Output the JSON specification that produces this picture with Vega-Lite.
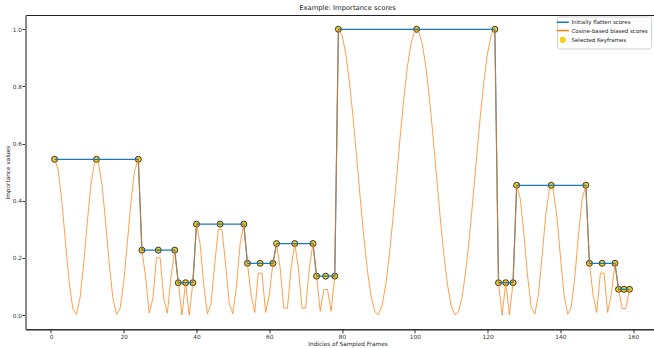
{
  "$schema": "https://vega.github.io/schema/vega-lite/v6.json",
  "autosize": "none",
  "padding": {"left": 25.5, "top": 15, "right": 0, "bottom": 19},
  "width": 644,
  "height": 314.3,
  "title": {"text": "Example: Importance scores", "fontSize": 6.8, "font": "DejaVu Sans", "fontWeight": "normal", "color": "#222", "offset": 3.2},
  "config": {"view": {"stroke": "#222", "strokeWidth": 1}, "font": "DejaVu Sans"},
  "datasets": {
    "frames": [
      {"x":1,"flat":0.545,"cos":0.545},{"x":2,"flat":0.545,"cos":0.5053},{"x":3,"flat":0.545,"cos":0.3979},{"x":4,"flat":0.545,"cos":0.2539},{"x":5,"flat":0.545,"cos":0.1154},{"x":6,"flat":0.545,"cos":0.0226},{"x":7,"flat":0.545,"cos":0.0025},{"x":8,"flat":0.545,"cos":0.0611},{"x":9,"flat":0.545,"cos":0.1812},{"x":10,"flat":0.545,"cos":0.3279},{"x":11,"flat":0.545,"cos":0.4585},{"x":12,"flat":0.545,"cos":0.5349},{"x":13,"flat":0.545,"cos":0.5349},{"x":14,"flat":0.545,"cos":0.4585},{"x":15,"flat":0.545,"cos":0.3279},{"x":16,"flat":0.545,"cos":0.1812},{"x":17,"flat":0.545,"cos":0.0611},{"x":18,"flat":0.545,"cos":0.0025},{"x":19,"flat":0.545,"cos":0.0226},{"x":20,"flat":0.545,"cos":0.1154},{"x":21,"flat":0.545,"cos":0.2539},{"x":22,"flat":0.545,"cos":0.3979},{"x":23,"flat":0.545,"cos":0.5053},{"x":24,"flat":0.545,"cos":0.545},
      {"x":25,"flat":0.227,"cos":0.227},{"x":26,"flat":0.227,"cos":0.1332},{"x":27,"flat":0.227,"cos":0.0068},{"x":28,"flat":0.227,"cos":0.0568},{"x":29,"flat":0.227,"cos":0.2005},{"x":30,"flat":0.227,"cos":0.2005},{"x":31,"flat":0.227,"cos":0.0568},{"x":32,"flat":0.227,"cos":0.0068},{"x":33,"flat":0.227,"cos":0.1332},{"x":34,"flat":0.227,"cos":0.227},
      {"x":35,"flat":0.113,"cos":0.113},{"x":36,"flat":0.113,"cos":0},{"x":37,"flat":0.113,"cos":0.113},{"x":38,"flat":0.113,"cos":0},{"x":39,"flat":0.113,"cos":0.113},
      {"x":40,"flat":0.318,"cos":0.318},{"x":41,"flat":0.318,"cos":0.2493},{"x":42,"flat":0.318,"cos":0.1026},{"x":43,"flat":0.318,"cos":0.0046},{"x":44,"flat":0.318,"cos":0.04},{"x":45,"flat":0.318,"cos":0.1782},{"x":46,"flat":0.318,"cos":0.2998},{"x":47,"flat":0.318,"cos":0.2998},{"x":48,"flat":0.318,"cos":0.1782},{"x":49,"flat":0.318,"cos":0.04},{"x":50,"flat":0.318,"cos":0.0046},{"x":51,"flat":0.318,"cos":0.1026},{"x":52,"flat":0.318,"cos":0.2493},{"x":53,"flat":0.318,"cos":0.318},
      {"x":54,"flat":0.181,"cos":0.181},{"x":55,"flat":0.181,"cos":0.0704},{"x":56,"flat":0.181,"cos":0.009},{"x":57,"flat":0.181,"cos":0.1469},{"x":58,"flat":0.181,"cos":0.1469},{"x":59,"flat":0.181,"cos":0.009},{"x":60,"flat":0.181,"cos":0.0704},{"x":61,"flat":0.181,"cos":0.181},
      {"x":62,"flat":0.25,"cos":0.25},{"x":63,"flat":0.25,"cos":0.1636},{"x":64,"flat":0.25,"cos":0.0239},{"x":65,"flat":0.25,"cos":0.0239},{"x":66,"flat":0.25,"cos":0.1636},{"x":67,"flat":0.25,"cos":0.25},{"x":68,"flat":0.25,"cos":0.1636},{"x":69,"flat":0.25,"cos":0.0239},{"x":70,"flat":0.25,"cos":0.0239},{"x":71,"flat":0.25,"cos":0.1636},{"x":72,"flat":0.25,"cos":0.25},
      {"x":73,"flat":0.136,"cos":0.136},{"x":74,"flat":0.136,"cos":0.013},{"x":75,"flat":0.136,"cos":0.089},{"x":76,"flat":0.136,"cos":0.089},{"x":77,"flat":0.136,"cos":0.013},{"x":78,"flat":0.136,"cos":0.136},
      {"x":79,"flat":1.0,"cos":1.0},{"x":80,"flat":1.0,"cos":0.9788},{"x":81,"flat":1.0,"cos":0.917},{"x":82,"flat":1.0,"cos":0.8198},{"x":83,"flat":1.0,"cos":0.6956},{"x":84,"flat":1.0,"cos":0.5547},{"x":85,"flat":1.0,"cos":0.4092},{"x":86,"flat":1.0,"cos":0.2714},{"x":87,"flat":1.0,"cos":0.153},{"x":88,"flat":1.0,"cos":0.064},{"x":89,"flat":1.0,"cos":0.012},{"x":90,"flat":1.0,"cos":0.0013},{"x":91,"flat":1.0,"cos":0.033},{"x":92,"flat":1.0,"cos":0.1043},{"x":93,"flat":1.0,"cos":0.2091},{"x":94,"flat":1.0,"cos":0.3386},{"x":95,"flat":1.0,"cos":0.4817},{"x":96,"flat":1.0,"cos":0.6265},{"x":97,"flat":1.0,"cos":0.7605},{"x":98,"flat":1.0,"cos":0.8724},{"x":99,"flat":1.0,"cos":0.9527},{"x":100,"flat":1.0,"cos":0.9947},{"x":101,"flat":1.0,"cos":0.9947},{"x":102,"flat":1.0,"cos":0.9527},{"x":103,"flat":1.0,"cos":0.8724},{"x":104,"flat":1.0,"cos":0.7605},{"x":105,"flat":1.0,"cos":0.6265},{"x":106,"flat":1.0,"cos":0.4817},{"x":107,"flat":1.0,"cos":0.3386},{"x":108,"flat":1.0,"cos":0.2091},{"x":109,"flat":1.0,"cos":0.1043},{"x":110,"flat":1.0,"cos":0.033},{"x":111,"flat":1.0,"cos":0.0013},{"x":112,"flat":1.0,"cos":0.012},{"x":113,"flat":1.0,"cos":0.064},{"x":114,"flat":1.0,"cos":0.153},{"x":115,"flat":1.0,"cos":0.2714},{"x":116,"flat":1.0,"cos":0.4092},{"x":117,"flat":1.0,"cos":0.5547},{"x":118,"flat":1.0,"cos":0.6956},{"x":119,"flat":1.0,"cos":0.8198},{"x":120,"flat":1.0,"cos":0.917},{"x":121,"flat":1.0,"cos":0.9788},{"x":122,"flat":1.0,"cos":1.0},
      {"x":123,"flat":0.113,"cos":0.113},{"x":124,"flat":0.113,"cos":0},{"x":125,"flat":0.113,"cos":0.113},{"x":126,"flat":0.113,"cos":0},{"x":127,"flat":0.113,"cos":0.113},
      {"x":128,"flat":0.454,"cos":0.454},{"x":129,"flat":0.454,"cos":0.4061},{"x":130,"flat":0.454,"cos":0.2827},{"x":131,"flat":0.454,"cos":0.1358},{"x":132,"flat":0.454,"cos":0.0274},{"x":133,"flat":0.454,"cos":0.0031},{"x":134,"flat":0.454,"cos":0.0733},{"x":135,"flat":0.454,"cos":0.2083},{"x":136,"flat":0.454,"cos":0.3512},{"x":137,"flat":0.454,"cos":0.4417},{"x":138,"flat":0.454,"cos":0.4417},{"x":139,"flat":0.454,"cos":0.3512},{"x":140,"flat":0.454,"cos":0.2083},{"x":141,"flat":0.454,"cos":0.0733},{"x":142,"flat":0.454,"cos":0.0031},{"x":143,"flat":0.454,"cos":0.0274},{"x":144,"flat":0.454,"cos":0.1358},{"x":145,"flat":0.454,"cos":0.2827},{"x":146,"flat":0.454,"cos":0.4061},{"x":147,"flat":0.454,"cos":0.454},
      {"x":148,"flat":0.181,"cos":0.181},{"x":149,"flat":0.181,"cos":0.0704},{"x":150,"flat":0.181,"cos":0.009},{"x":151,"flat":0.181,"cos":0.1469},{"x":152,"flat":0.181,"cos":0.1469},{"x":153,"flat":0.181,"cos":0.009},{"x":154,"flat":0.181,"cos":0.0704},{"x":155,"flat":0.181,"cos":0.181},
      {"x":156,"flat":0.09,"cos":0.09},{"x":157,"flat":0.09,"cos":0.0225},{"x":158,"flat":0.09,"cos":0.0225},{"x":159,"flat":0.09,"cos":0.09}
    ],
    "keys": [
      {"x":1,"y":0.545},{"x":12.5,"y":0.545},{"x":24,"y":0.545},
      {"x":25,"y":0.227},{"x":29.5,"y":0.227},{"x":34,"y":0.227},
      {"x":35,"y":0.113},{"x":37,"y":0.113},{"x":39,"y":0.113},
      {"x":40,"y":0.318},{"x":46.5,"y":0.318},{"x":53,"y":0.318},
      {"x":54,"y":0.181},{"x":57.5,"y":0.181},{"x":61,"y":0.181},
      {"x":62,"y":0.25},{"x":67,"y":0.25},{"x":72,"y":0.25},
      {"x":73,"y":0.136},{"x":75.5,"y":0.136},{"x":78,"y":0.136},
      {"x":79,"y":1.0},{"x":100.5,"y":1.0},{"x":122,"y":1.0},
      {"x":123,"y":0.113},{"x":125,"y":0.113},{"x":127,"y":0.113},
      {"x":128,"y":0.454},{"x":137.5,"y":0.454},{"x":147,"y":0.454},
      {"x":148,"y":0.181},{"x":151.5,"y":0.181},{"x":155,"y":0.181},
      {"x":156,"y":0.09},{"x":157.5,"y":0.09},{"x":159,"y":0.09}
    ]
  },
  "encoding": {
    "x": {
      "field": "x", "type": "quantitative",
      "scale": {"domain": [-7, 170], "nice": false, "zero": false},
      "axis": {
        "title": "Indicies of Sampled Frames", "titleFontSize": 5.8, "titleFontWeight": "normal", "titleColor": "#222", "titlePadding": 1.5, "titleFont": "DejaVu Sans",
        "values": [0, 20, 40, 60, 80, 100, 120, 140, 160], "labelFontSize": 5.8, "labelColor": "#333", "labelFont": "DejaVu Sans", "labelPadding": 0.5, "labelFlush": false,
        "tickSize": 3.5, "tickColor": "#333", "domainColor": "#222", "grid": false
      }
    }
  },
  "layer": [
    {
      "data": {"name": "keys"},
      "mark": {"type": "point", "shape": "circle", "filled": true, "size": 36, "stroke": "#333", "strokeWidth": 1, "opacity": 1},
      "encoding": {
        "y": {"field": "y", "type": "quantitative"},
        "color": {"datum": "Selected Keyframes"}
      }
    },
    {
      "data": {"name": "frames"},
      "mark": {"type": "line", "strokeWidth": 1.2},
      "encoding": {
        "y": {
          "field": "flat", "type": "quantitative",
          "scale": {"domain": [-0.05, 1.05], "nice": false, "zero": false},
          "axis": {
            "title": "Importance values", "titleFontSize": 5.8, "titleFontWeight": "normal", "titleColor": "#222", "titlePadding": 1.5, "titleFont": "DejaVu Sans",
            "values": [0, 0.2, 0.4, 0.6, 0.8, 1.0], "format": ".1f", "labelFontSize": 5.8, "labelColor": "#333", "labelFont": "DejaVu Sans", "labelPadding": 0.5,
            "tickSize": 3.5, "tickColor": "#333", "domainColor": "#888", "domainWidth": 2, "grid": false
          }
        },
        "color": {
          "datum": "Initially flatten scores",
          "scale": {"domain": ["Initially flatten scores", "Cosine-based biased scores", "Selected Keyframes"], "range": ["#1f77b4", "#ff7f0e", "#f2d01a"]},
          "legend": {
            "title": null, "orient": "none", "legendX": 531.5, "legendY": 1.5, "padding": 3, "rowPadding": 0.3,
            "labelFontSize": 5.5, "labelFont": "DejaVu Sans", "labelColor": "#222", "labelOffset": 6,
            "symbolSize": 64, "fillColor": "rgba(255,255,255,0.85)", "strokeColor": "#d0d0d0", "cornerRadius": 2,
            "encode": {
              "symbols": {
                "update": {
                  "shape": {"signal": "datum.value === 'Selected Keyframes' ? 'circle' : 'stroke'"},
                  "size": {"signal": "datum.value === 'Selected Keyframes' ? 30 : 150"},
                  "fill": {"signal": "datum.value === 'Selected Keyframes' ? '#f2d01a' : 'transparent'"},
                  "stroke": {"signal": "datum.value === 'Initially flatten scores' ? '#1f77b4' : (datum.value === 'Cosine-based biased scores' ? '#ffa060' : '#333')"},
                  "strokeWidth": {"signal": "datum.value === 'Selected Keyframes' ? 1 : 1.5"},
                  "opacity": {"value": 1}
                }
              }
            }
          }
        }
      }
    },
    {
      "data": {"name": "frames"},
      "mark": {"type": "line", "strokeWidth": 1, "strokeOpacity": 0.75},
      "encoding": {
        "y": {"field": "cos", "type": "quantitative"},
        "color": {"datum": "Cosine-based biased scores"}
      }
    }
  ]
}
